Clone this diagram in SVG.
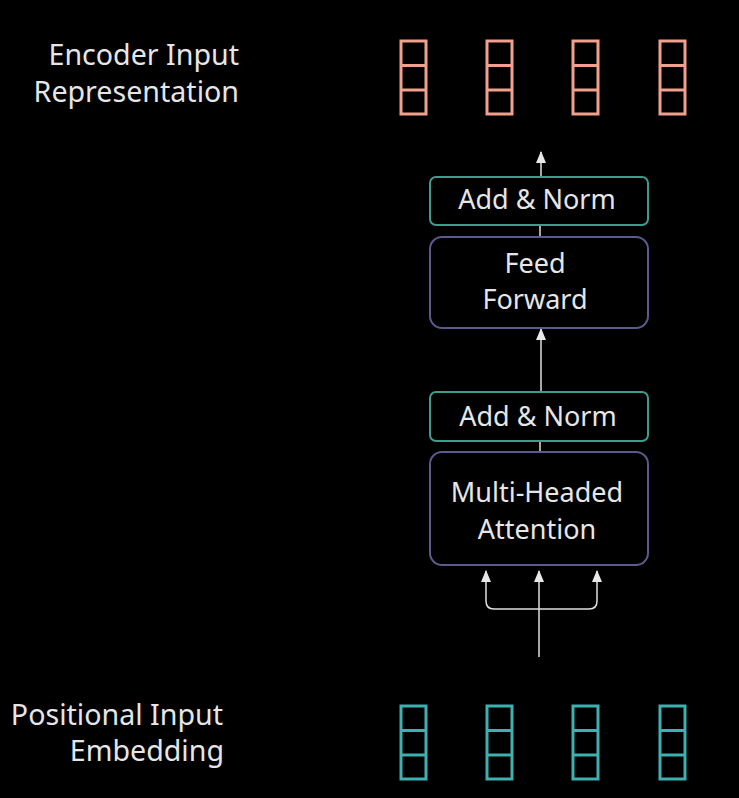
<svg xmlns="http://www.w3.org/2000/svg" width="739" height="798" viewBox="0 0 739 798">
<defs>
<marker id="ah" viewBox="0 0 12 12" refX="11" refY="6" markerWidth="12" markerHeight="12" markerUnits="userSpaceOnUse" orient="auto-start-reverse">
<path d="M0,1 L12,6 L0,11 Z" fill="#e8e8e8"/>
</marker>
</defs>
<style>
text{font-family:"Noto Sans","Open Sans",sans-serif;fill:#e6e6e6}
.lbl{font-size:28.6px;text-anchor:end}
.bt{font-size:27px;text-anchor:middle}
.norm{fill:#000;stroke:#3d9c8c;stroke-width:2}
.blk{fill:#000;stroke:#5c5a8c;stroke-width:2}
.or{fill:none;stroke:#f0a08c;stroke-width:3}
.tl{fill:none;stroke:#3fb0b0;stroke-width:3}
.ln{fill:none;stroke:#e0e0e0;stroke-width:1.5}
</style>
<rect width="739" height="798" fill="#000"/>
<g id="label-encoder"><text class="lbl" x="239" y="65">Encoder Input</text><text class="lbl" x="239" y="102">Representation</text></g>
<g id="label-positional"><text class="lbl" x="223" y="725">Positional Input</text><text class="lbl" x="224" y="761">Embedding</text></g>
<g id="out-vectors" class="or">
<rect x="401" y="41" width="25" height="73"/><path d="M401 65.5H426M401 90H426"/>
<rect x="487" y="41" width="25" height="73"/><path d="M487 65.5H512M487 90H512"/>
<rect x="573" y="41" width="25" height="73"/><path d="M573 65.5H598M573 90H598"/>
<rect x="660" y="41" width="25" height="73"/><path d="M660 65.5H685M660 90H685"/>
</g>
<g id="in-vectors" class="tl">
<rect x="401" y="706" width="25" height="73"/><path d="M401 730.5H426M401 755H426"/>
<rect x="487" y="706" width="25" height="73"/><path d="M487 730.5H512M487 755H512"/>
<rect x="573" y="706" width="25" height="73"/><path d="M573 730.5H598M573 755H598"/>
<rect x="660" y="706" width="25" height="73"/><path d="M660 730.5H685M660 755H685"/>
</g>
<g id="connectors">
<path class="ln" d="M541 177V152" marker-end="url(#ah)"/>
<path class="ln" d="M540 225V237"/>
<path class="ln" d="M541 391V329" marker-end="url(#ah)"/>
<path class="ln" d="M540 441V452"/>
<path class="ln" d="M539 657V571" marker-end="url(#ah)"/>
<path class="ln" d="M486 571V601Q486 609 494 609H589Q597 609 597 601V571" marker-start="url(#ah)" marker-end="url(#ah)"/>
</g>
<g id="addnorm2"><rect class="norm" x="430" y="177" width="218" height="48" rx="6"/><text class="bt" x="537" y="209">Add &amp; Norm</text></g>
<g id="feedforward"><rect class="blk" x="430" y="237" width="218" height="91" rx="12"/><text class="bt" x="535" y="273">Feed</text><text class="bt" x="535" y="309">Forward</text></g>
<g id="addnorm1"><rect class="norm" x="430" y="392" width="218" height="49" rx="6"/><text class="bt" x="538" y="426">Add &amp; Norm</text></g>
<g id="attention"><rect class="blk" x="430" y="452" width="218" height="113" rx="12"/><text class="bt" x="537" y="502">Multi-Headed</text><text class="bt" x="537" y="539">Attention</text></g>
</svg>
